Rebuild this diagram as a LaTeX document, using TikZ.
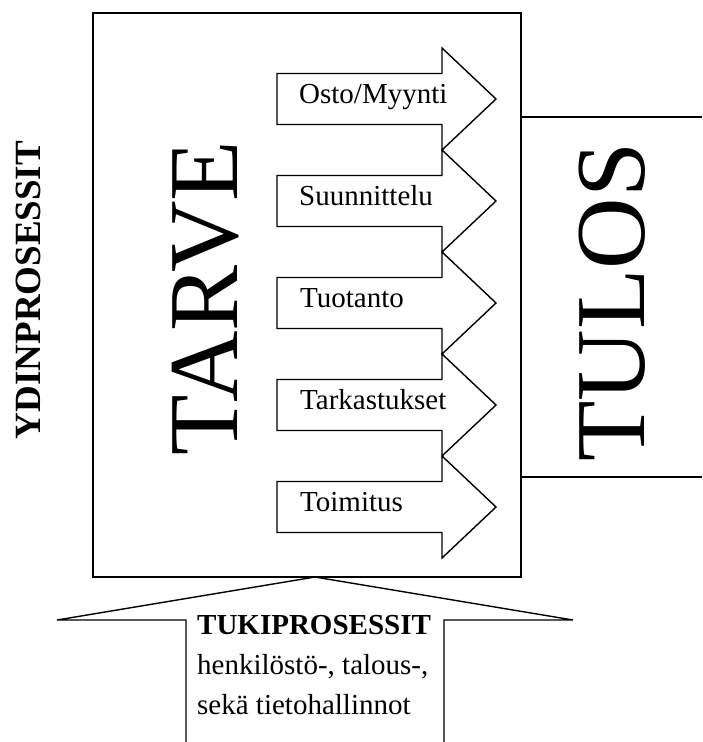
\documentclass[tikz,border=0pt]{standalone}
\usepackage{fontspec}
\setmainfont{Liberation Serif}
\begin{document}
\begin{tikzpicture}[x=1pt,y=-1pt,line join=miter,
  frame/.style={line width=1.7pt},
  procarrow/.style={line width=1.4pt},
  lbl/.style={font=\fontsize{29}{29}\selectfont,inner sep=0pt,anchor=base west},
  bigtext/.style={font=\fontsize{99}{99}\selectfont,inner sep=0pt,rotate=90},
  sidetext/.style={font=\fontsize{37}{37}\selectfont\bfseries,inner sep=0pt,rotate=90}]
\useasboundingbox (0,0) rectangle (702,742);
% main box and result box
\draw[frame] (93,13) rectangle (521,577);
\draw[frame] (521,117) -- (702,117);
\draw[frame] (521,477) -- (702,477);
% process arrows
\foreach \c in {99,201,303,405,507}{
  \draw[procarrow] (277,\c-25.5) -- (442,\c-25.5) -- (442,\c-51) -- (496,\c)
    -- (442,\c+51) -- (442,\c+25.5) -- (277,\c+25.5) -- cycle;
}
\node[lbl] (osto) at (299,103) {Osto/Myynti};
\node[lbl] (suun) at (299,205) {Suunnittelu};
\node[lbl] (tuot) at (300,307) {Tuotanto};
\node[lbl] (tark) at (300,409) {Tarkastukset};
\node[lbl] (toim) at (300,511) {Toimitus};
% big vertical texts
\node[bigtext] (tarve) at (206,298) {TARVE};
\node[bigtext] (tulos) at (612,302) {TULOS};
\node[sidetext] (ydin) at (28,290) {YDINPROSESSIT};
% support arrow
\draw[procarrow] (186,742) -- (186,620) -- (57,620) -- (315,577) -- (573,620) -- (444,620) -- (444,742);
\node[lbl,font=\fontsize{29}{29}\selectfont\bfseries] (tuki) at (197,634) {TUKIPROSESSIT};
\node[lbl] (tuki2) at (197,674) {henkilöstö-, talous-,};
\node[lbl] (tuki3) at (197,714) {sekä tietohallinnot};
\end{tikzpicture}
\end{document}
